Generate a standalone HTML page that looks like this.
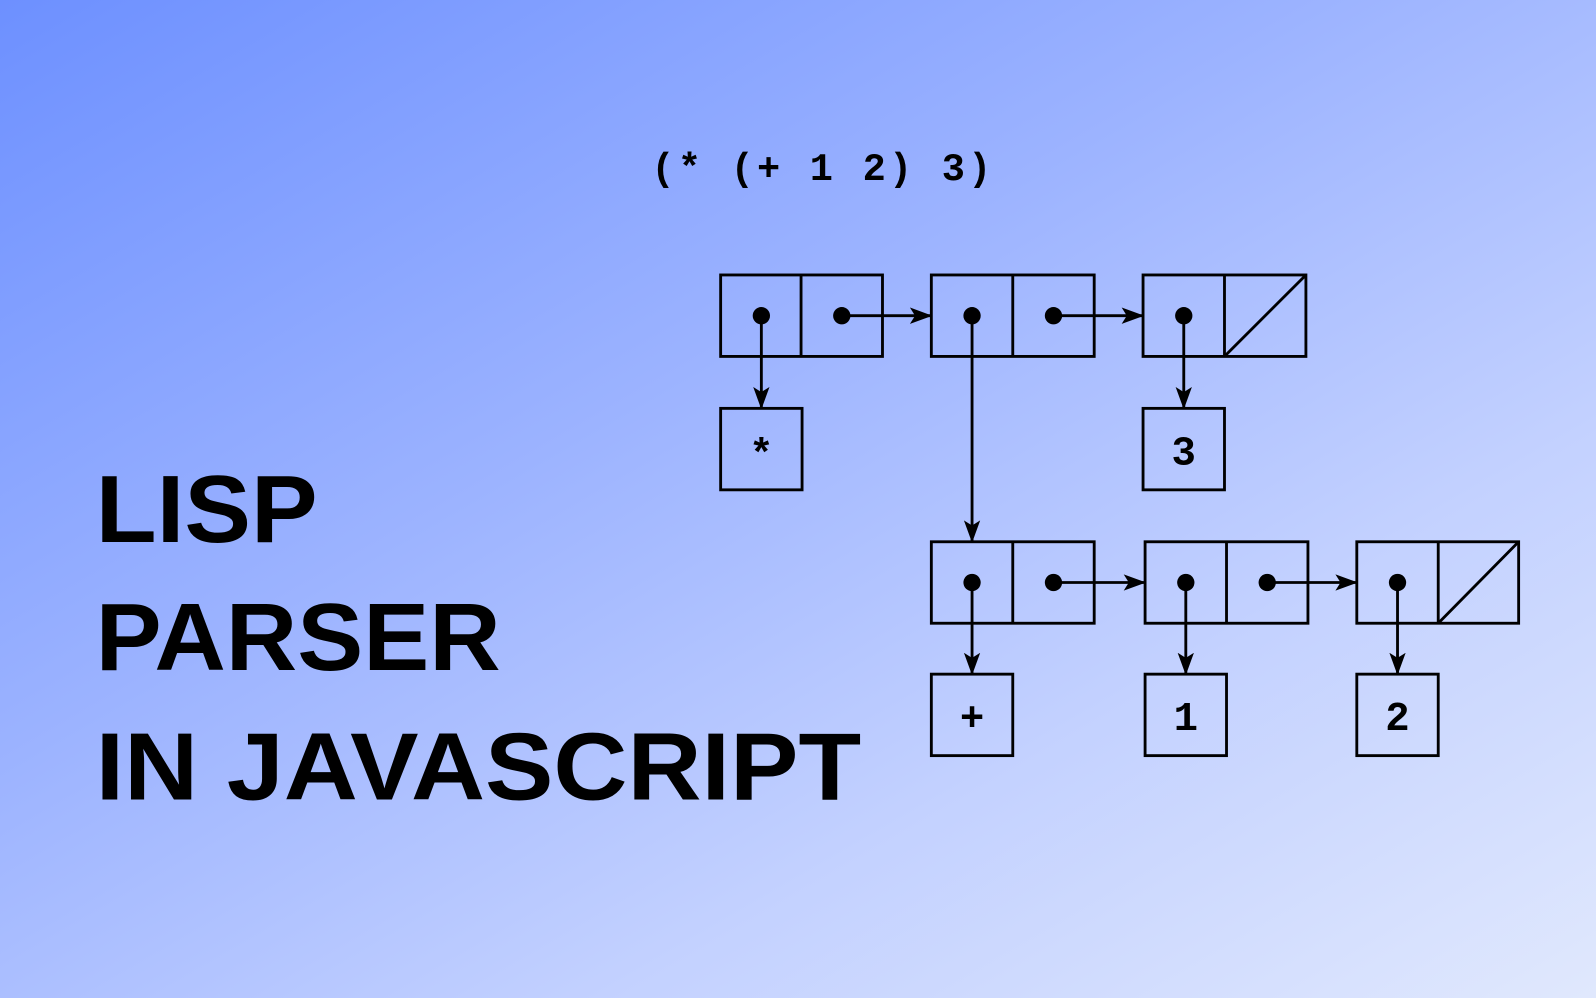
<!DOCTYPE html>
<html><head><meta charset="utf-8"><style>
html,body{margin:0;padding:0;width:1596px;height:998px;overflow:hidden}
body{background:linear-gradient(150deg,#6d90ff 0%,#9cb3ff 40%,#c3d1ff 70%,#e0e8fd 100%)}
svg{display:block}
</style></head><body>
<svg width="1596" height="998" viewBox="0 0 1568 980" preserveAspectRatio="none" xmlns="http://www.w3.org/2000/svg">
<defs>
<marker id="a" markerWidth="22" markerHeight="18" refX="20" refY="9" orient="auto" markerUnits="userSpaceOnUse">
<path d="M0,1 L22,9 L0,17 L5,9 Z" fill="#000"/></marker>
</defs>
<g font-family="Liberation Sans, sans-serif" font-weight="bold" font-size="94" fill="#000">
<text x="94" y="532" textLength="218" lengthAdjust="spacingAndGlyphs">LISP</text>
<text x="94" y="658" textLength="398" lengthAdjust="spacingAndGlyphs">PARSER</text>
<text x="94" y="785" textLength="752" lengthAdjust="spacingAndGlyphs">IN JAVASCRIPT</text>
</g>
<text x="640" y="177" font-family="Liberation Mono, monospace" font-weight="bold" font-size="38" textLength="334" lengthAdjust="spacing" xml:space="preserve">(* (+ 1 2) 3)</text>
<g fill="none" stroke="#000" stroke-width="2.8">
<rect x="708" y="270" width="159" height="80"/><line x1="787" y1="270" x2="787" y2="350"/>
<rect x="915" y="270" width="160" height="80"/><line x1="995" y1="270" x2="995" y2="350"/>
<rect x="1123" y="270" width="160" height="80"/><line x1="1203" y1="270" x2="1203" y2="350"/><line x1="1203" y1="350" x2="1283" y2="270"/>
<rect x="708" y="401" width="80" height="80"/>
<rect x="1123" y="401" width="80" height="80"/>
<rect x="915" y="532" width="160" height="80"/><line x1="995" y1="532" x2="995" y2="612"/>
<rect x="1125" y="532" width="160" height="80"/><line x1="1205" y1="532" x2="1205" y2="612"/>
<rect x="1333" y="532" width="159" height="80"/><line x1="1413" y1="532" x2="1413" y2="612"/><line x1="1413" y1="612" x2="1492" y2="532"/>
<rect x="915" y="662" width="80" height="80"/>
<rect x="1125" y="662" width="80" height="80"/>
<rect x="1333" y="662" width="80" height="80"/>
<line x1="748" y1="310" x2="748" y2="400" marker-end="url(#a)"/>
<line x1="827" y1="310" x2="914" y2="310" marker-end="url(#a)"/>
<line x1="955" y1="310" x2="955" y2="531" marker-end="url(#a)"/>
<line x1="1035" y1="310" x2="1122" y2="310" marker-end="url(#a)"/>
<line x1="1163" y1="310" x2="1163" y2="400" marker-end="url(#a)"/>
<line x1="955" y1="572" x2="955" y2="661" marker-end="url(#a)"/>
<line x1="1035" y1="572" x2="1124" y2="572" marker-end="url(#a)"/>
<line x1="1165" y1="572" x2="1165" y2="661" marker-end="url(#a)"/>
<line x1="1245" y1="572" x2="1332" y2="572" marker-end="url(#a)"/>
<line x1="1373" y1="572" x2="1373" y2="661" marker-end="url(#a)"/>
</g>
<g fill="#000">
<circle cx="748" cy="310" r="8.5"/><circle cx="827" cy="310" r="8.5"/>
<circle cx="955" cy="310" r="8.5"/><circle cx="1035" cy="310" r="8.5"/>
<circle cx="1163" cy="310" r="8.5"/>
<circle cx="955" cy="572" r="8.5"/><circle cx="1035" cy="572" r="8.5"/>
<circle cx="1165" cy="572" r="8.5"/><circle cx="1245" cy="572" r="8.5"/>
<circle cx="1373" cy="572" r="8.5"/>
</g>
<g font-family="Liberation Mono, monospace" font-weight="bold" font-size="40" text-anchor="middle">
<text x="748" y="458">*</text>
<text x="1163" y="456">3</text>
<text x="955" y="717">+</text>
<text x="1165" y="717">1</text>
<text x="1373" y="717">2</text>
</g>
</svg>
</body></html>
